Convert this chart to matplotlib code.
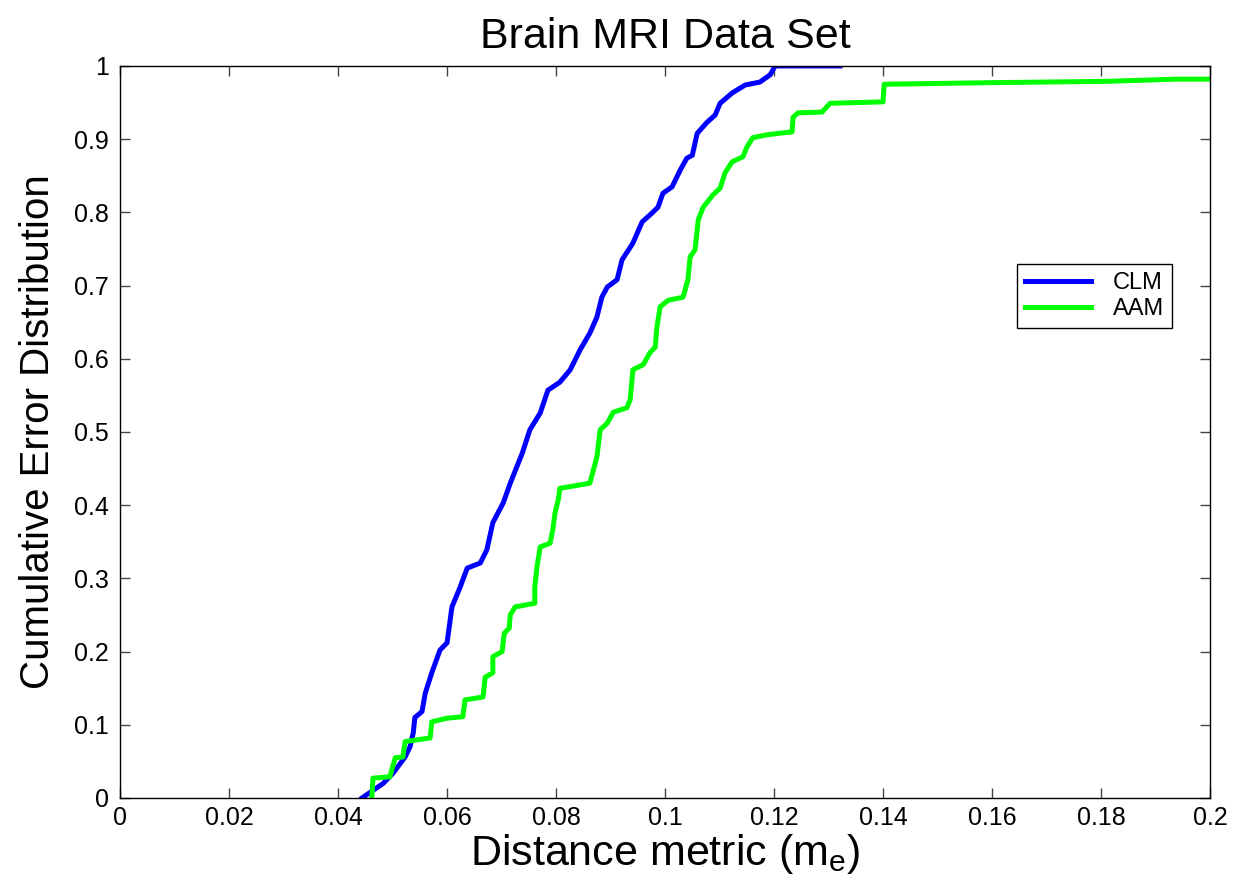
import matplotlib
matplotlib.use("Agg")
import matplotlib.pyplot as plt

plt.rcParams["font.family"] = ["Liberation Sans", "DejaVu Sans"]

# CLM curve
clm_x = [0.0444, 0.0483, 0.0501, 0.0523, 0.0532, 0.0538, 0.0541, 0.0554, 0.0560,
         0.0572, 0.0587, 0.0600, 0.0609, 0.0624, 0.0637, 0.0661, 0.0673, 0.0684,
         0.0703, 0.0716, 0.0738, 0.0752, 0.0771, 0.0785, 0.0807, 0.0826, 0.0844,
         0.0862, 0.0875, 0.0884, 0.0894, 0.0912, 0.0921, 0.0941, 0.0958, 0.0976,
         0.0987, 0.0996, 0.1013, 0.1028, 0.1040, 0.1050, 0.1059, 0.1077, 0.1092,
         0.1101, 0.1123, 0.1147, 0.1174, 0.1193, 0.1202, 0.1321]
clm_y = [0.0, 0.020, 0.034, 0.056, 0.070, 0.089, 0.110, 0.118, 0.143,
         0.171, 0.202, 0.212, 0.261, 0.288, 0.314, 0.321, 0.339, 0.376,
         0.403, 0.430, 0.471, 0.503, 0.526, 0.557, 0.568, 0.585, 0.612,
         0.635, 0.657, 0.684, 0.698, 0.708, 0.735, 0.758, 0.787, 0.799,
         0.807, 0.826, 0.835, 0.858, 0.874, 0.878, 0.908, 0.923, 0.933,
         0.949, 0.963, 0.974, 0.978, 0.988, 1.0, 1.0]

# AAM curve
aam_x = [0.0462, 0.0464, 0.0495, 0.0505, 0.0519, 0.0523, 0.0569, 0.0572, 0.0600,
         0.0629, 0.0633, 0.0666, 0.0670, 0.0684, 0.0684, 0.0701, 0.0705, 0.0714,
         0.0716, 0.0725, 0.0761, 0.0761, 0.0765, 0.0771, 0.0789, 0.0794, 0.0798,
         0.0804, 0.0807, 0.0862, 0.0875, 0.0881, 0.0894, 0.0905, 0.0930, 0.0936,
         0.0941, 0.0960, 0.0972, 0.0982, 0.0985, 0.0991, 0.1006, 0.1033, 0.1042,
         0.1046, 0.1055, 0.1061, 0.1070, 0.1088, 0.1101, 0.1110, 0.1123, 0.1143,
         0.1150, 0.1161, 0.1187, 0.1233, 0.1235, 0.1244, 0.1288, 0.1303, 0.1400,
         0.1402, 0.1578, 0.1811, 0.1939, 0.2]
aam_y = [0.0, 0.027, 0.029, 0.055, 0.056, 0.077, 0.082, 0.104, 0.109,
         0.111, 0.134, 0.138, 0.165, 0.171, 0.193, 0.200, 0.225, 0.232,
         0.250, 0.261, 0.266, 0.288, 0.316, 0.343, 0.348, 0.366, 0.389,
         0.407, 0.423, 0.430, 0.466, 0.503, 0.512, 0.527, 0.533, 0.544,
         0.585, 0.592, 0.608, 0.616, 0.643, 0.671, 0.680, 0.684, 0.708,
         0.739, 0.749, 0.790, 0.807, 0.824, 0.833, 0.854, 0.869, 0.876,
         0.889, 0.902, 0.906, 0.910, 0.930, 0.936, 0.937, 0.949, 0.951,
         0.975, 0.977, 0.979, 0.982, 0.982]

x_ticks = [0, 0.02, 0.04, 0.06, 0.08, 0.1, 0.12, 0.14, 0.16, 0.18, 0.2]
x_tick_labels = ["0", "0.02", "0.04", "0.06", "0.08", "0.1", "0.12", "0.14", "0.16", "0.18", "0.2"]
y_ticks = [0, 0.1, 0.2, 0.3, 0.4, 0.5, 0.6, 0.7, 0.8, 0.9, 1]
y_tick_labels = ["0", "0.1", "0.2", "0.3", "0.4", "0.5", "0.6", "0.7", "0.8", "0.9", "1"]

fig = plt.figure(figsize=(12.35, 8.89), dpi=100)
ax = fig.add_axes([0.0972, 0.1024, 0.8826, 0.8234])

ax.plot(clm_x, clm_y, color="#0000ff", lw=3.6, label="CLM", solid_joinstyle="round")
ax.plot(aam_x, aam_y, color="#00ff00", lw=3.6, label="AAM", solid_joinstyle="round")

ax.set_xlim(0, 0.2)
ax.set_ylim(0, 1)
ax.set_xticks(x_ticks)
ax.set_xticklabels(x_tick_labels)
ax.set_yticks(y_ticks)
ax.set_yticklabels(y_tick_labels)
ax.tick_params(direction="in", length=7, width=1, color="#444444", labelsize=18,
               top=True, right=True)
ax.tick_params(axis="x", pad=6)
ax.tick_params(axis="y", pad=8)
for spine in ax.spines.values():
    spine.set_linewidth(1.0)

ax.set_title("Brain MRI Data Set", fontsize=31, pad=13)
ax.set_xlabel("Distance metric (m$_\\mathregular{e}$)", fontsize=31, labelpad=1)
ax.set_ylabel("Cumulative Error Distribution", fontsize=29)
ax.yaxis.set_label_coords(-0.058, 0.5)

leg = ax.legend(loc="upper left", bbox_to_anchor=(0.823, 0.7295), borderaxespad=0,
                fancybox=False, edgecolor="black", framealpha=1, fontsize=17,
                handlelength=2.8, handletextpad=0.9, labelspacing=0.15, borderpad=0.35)
leg.get_frame().set_linewidth(1.0)

fig.savefig("out.png", dpi=100)
